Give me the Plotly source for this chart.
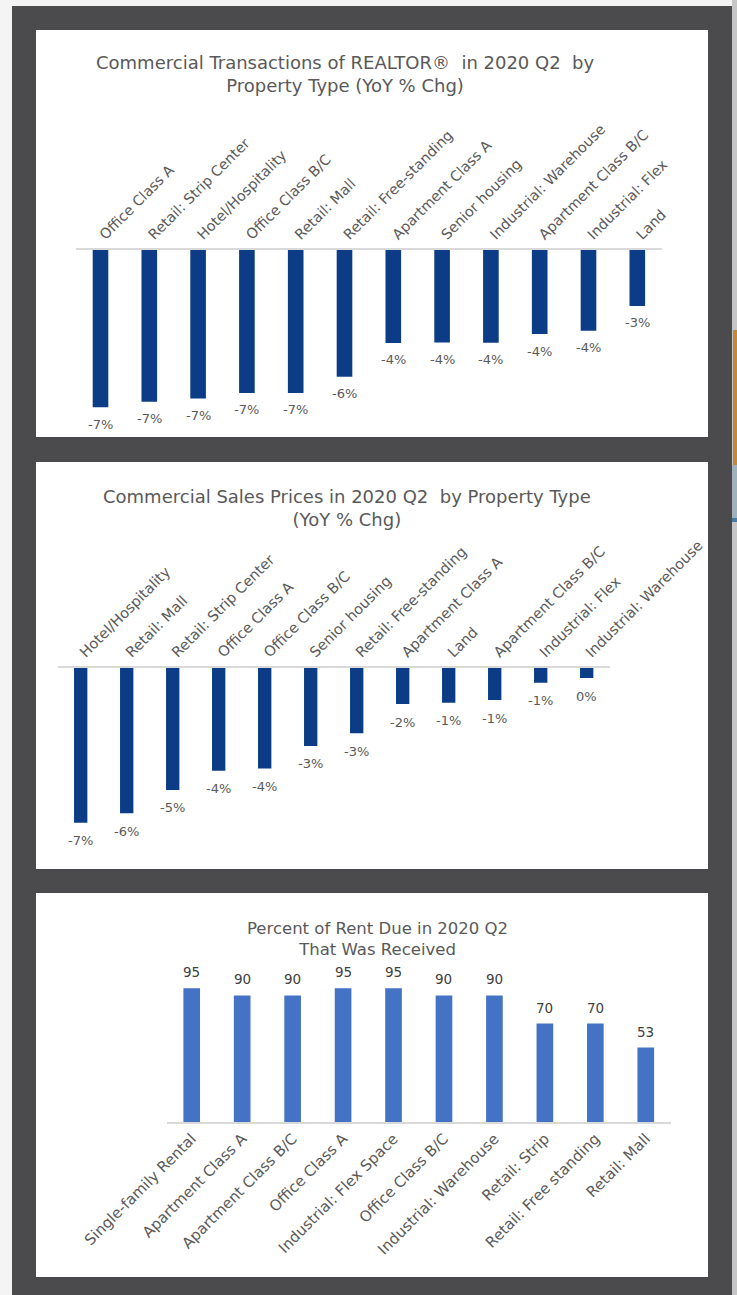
import plotly.graph_objects as go

W, H = 737, 1295

# ---------------- data ----------------
p1_title = "Commercial Transactions of REALTOR®  in 2020 Q2  by<br>Property Type (YoY % Chg)"
p1_cats = ["Office Class A", "Retail: Strip Center", "Hotel/Hospitality", "Office Class B/C",
           "Retail: Mall", "Retail: Free-standing", "Apartment Class A", "Senior housing",
           "Industrial: Warehouse", "Apartment Class B/C", "Industrial: Flex", "Land"]
p1_vals = [-7.28, -7.02, -6.87, -6.62, -6.62, -5.87, -4.30, -4.28, -4.29, -3.89, -3.74, -2.59]

p2_title = "Commercial Sales Prices in 2020 Q2  by Property Type<br>(YoY % Chg)"
p2_cats = ["Hotel/Hospitality", "Retail: Mall", "Retail: Strip Center", "Office Class A",
           "Office Class B/C", "Senior housing", "Retail: Free-standing", "Apartment Class A",
           "Land", "Apartment Class B/C", "Industrial: Flex", "Industrial: Warehouse"]
p2_vals = [-6.61, -6.21, -5.21, -4.39, -4.29, -3.33, -2.79, -1.54, -1.48, -1.37, -0.63, -0.43]

p3_title = "Percent of Rent Due in 2020 Q2<br>That Was Received"
p3_cats = ["Single-family Rental", "Apartment Class A", "Apartment Class B/C", "Office Class A",
           "Industrial: Flex Space", "Office Class B/C", "Industrial: Warehouse", "Retail: Strip",
           "Retail: Free standing", "Retail: Mall"]
p3_vals = [95, 90, 90, 95, 95, 90, 90, 70, 70, 53]

# ---------------- helpers ----------------
def fx(p):
    return p / W

def fy(p):
    return 1 - p / H

FONT = "DejaVu Sans"
GRAY = "#595959"
NAVY = "#0b3c85"
BLUE = "#4472c4"

def pct(v):
    return f"{int(round(v))}%"

fig = go.Figure()

fig.add_trace(go.Bar(x=p1_cats, y=p1_vals, marker_color=NAVY, width=0.32,
                     xaxis="x", yaxis="y", hoverinfo="skip"))
fig.add_trace(go.Bar(x=p2_cats, y=p2_vals, marker_color=NAVY, width=0.29,
                     xaxis="x2", yaxis="y2", hoverinfo="skip"))
fig.add_trace(go.Bar(x=p3_cats, y=p3_vals, marker_color=BLUE, width=0.33,
                     xaxis="x3", yaxis="y3", hoverinfo="skip"))

annotations = []
for c, v in zip(p1_cats, p1_vals):
    annotations.append(dict(x=c, y=v, xref="x", yref="y", text=pct(v), showarrow=False,
                            yshift=-17, yanchor="middle",
                            font=dict(family=FONT, size=13, color=GRAY)))
for c, v in zip(p2_cats, p2_vals):
    annotations.append(dict(x=c, y=v, xref="x2", yref="y2", text=pct(v), showarrow=False,
                            yshift=-18, yanchor="middle",
                            font=dict(family=FONT, size=13, color=GRAY)))
for c, v in zip(p3_cats, p3_vals):
    annotations.append(dict(x=c, y=v, xref="x3", yref="y3", text=str(v), showarrow=False,
                            yshift=16, yanchor="middle",
                            font=dict(family=FONT, size=13.5, color="#404040")))

for t, cx, cy, fs in [(p1_title, 345, 74, 18), (p2_title, 347, 508, 18), (p3_title, 377, 939, 16.5)]:
    annotations.append(dict(x=fx(cx), y=fy(cy), xref="paper", yref="paper", text=t,
                            showarrow=False, xanchor="center", yanchor="middle",
                            font=dict(family=FONT, size=fs, color=GRAY)))

def rect(x0, y0, x1, y1, color):
    return dict(type="rect", xref="paper", yref="paper", x0=fx(x0), x1=fx(x1),
                y0=fy(y1), y1=fy(y0), fillcolor=color, line=dict(width=0), layer="below")

shapes = [
    rect(12, 6, 732, H, "#4b4b4d"),
    rect(732, 0, W, H, "#c6c6c6"),
    rect(733, 330, W, 465, "#c08a3c"),
    rect(732, 465, W, 518, "#9fb1bb"),
    rect(732, 518, W, 522, "#4a7aa3"),
    rect(36, 30, 708, 437, "white"),
    rect(36, 462, 708, 869, "white"),
    rect(36, 893, 708, 1277, "white"),
]

common_x = dict(type="category", showline=True, linecolor="#d9d9d9", linewidth=1.5,
                tickangle=-45, ticks="", showgrid=False, zeroline=False, fixedrange=True)
common_y = dict(visible=False, showgrid=False, zeroline=False, fixedrange=True)

fig.update_layout(
    width=W, height=H, template="none",
    margin=dict(l=0, r=0, t=0, b=0),
    paper_bgcolor="#f4f4f4", plot_bgcolor="rgba(0,0,0,0)",
    showlegend=False,
    font=dict(family=FONT, color=GRAY),
    xaxis=dict(common_x, domain=[fx(76.1), fx(661.7)], anchor="y", side="top",
               range=[-0.5, 11.5], tickfont=dict(family=FONT, size=14.3, color=GRAY)),
    yaxis=dict(common_y, domain=[fy(430), fy(250)], anchor="x",
               range=[-(430 - 250) / 21.6, 0]),
    xaxis2=dict(common_x, domain=[fx(57.7), fx(609.7)], anchor="y2", side="top",
                range=[-0.5, 11.5], tickfont=dict(family=FONT, size=14.5, color=GRAY)),
    yaxis2=dict(common_y, domain=[fy(850), fy(668)], anchor="x2",
                range=[-(850 - 668) / 23.4, 0]),
    xaxis3=dict(common_x, domain=[fx(166.5), fx(671)], anchor="y3", side="bottom",
                range=[-0.5, 9.5], tickfont=dict(family=FONT, size=15, color=GRAY)),
    yaxis3=dict(common_y, domain=[fy(1122.3), fy(981.3)], anchor="x3", range=[0, 100]),
    annotations=annotations,
    shapes=shapes,
)

fig.write_html("out.html", config={"displayModeBar": False},
               post_script="document.body.style.margin='0';document.body.style.overflow='hidden';")
